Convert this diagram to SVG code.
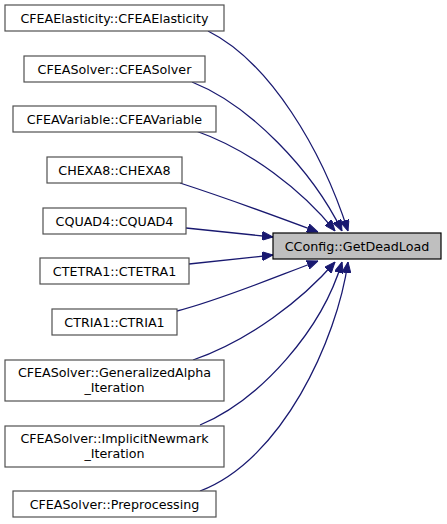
<svg xmlns="http://www.w3.org/2000/svg" width="447" height="524" viewBox="0 0 447 524">
<defs>
<style>
.node rect{fill:#ffffff;stroke:#505050;stroke-width:1.2}
.main rect{fill:#bfbfbf;stroke:#000000;stroke-width:1.2}
text{font-family:"DejaVu Sans",sans-serif;font-size:12.7px;fill:#000000;text-anchor:middle}
.edge{fill:none;stroke:#191970;stroke-width:1.3}
</style>
<marker id="ah" viewBox="0 0 11 9" refX="11" refY="4.5" markerWidth="11" markerHeight="9" markerUnits="userSpaceOnUse" orient="auto">
<path d="M0,0 L11,4.5 L0,9 Z" fill="#191970" stroke="#191970"/>
</marker>
</defs>
<rect width="447" height="524" fill="#ffffff"/>
<g id="connectors">
<path class="edge" marker-end="url(#ah)" d="M208,31 C270,62 322,150 348,231"/>
<path class="edge" marker-end="url(#ah)" d="M192,82 C250,105 312,170 342,231"/>
<path class="edge" marker-end="url(#ah)" d="M196,131 C250,150 302,190 335,231"/>
<path class="edge" marker-end="url(#ah)" d="M180,183 C220,196 270,214 318,232"/>
<path class="edge" marker-end="url(#ah)" d="M186,228 L273,237"/>
<path class="edge" marker-end="url(#ah)" d="M189,264 L273,255"/>
<path class="edge" marker-end="url(#ah)" d="M177,311 C220,300 270,279 318,261"/>
<path class="edge" marker-end="url(#ah)" d="M193,360 C250,340 302,300 335,262"/>
<path class="edge" marker-end="url(#ah)" d="M200,425 C260,400 322,330 342,262"/>
<path class="edge" marker-end="url(#ah)" d="M200,491 C282,460 337,340 348,262"/>
</g>
<g id="n_main" class="main"><rect x="273" y="233" width="168" height="26"/><text x="357" y="250.5">CConfig::GetDeadLoad</text></g>
<g id="n1" class="node"><rect x="5" y="5" width="219" height="26"/><text x="114.5" y="22.5">CFEAElasticity::CFEAElasticity</text></g>
<g id="n2" class="node"><rect x="24" y="56" width="181" height="26"/><text x="114.5" y="73.5">CFEASolver::CFEASolver</text></g>
<g id="n3" class="node"><rect x="13" y="106" width="203" height="26"/><text x="114.5" y="123.5">CFEAVariable::CFEAVariable</text></g>
<g id="n4" class="node"><rect x="47" y="157" width="135" height="26"/><text x="114.5" y="174.5">CHEXA8::CHEXA8</text></g>
<g id="n5" class="node"><rect x="43" y="208" width="143" height="26"/><text x="114.5" y="225.5">CQUAD4::CQUAD4</text></g>
<g id="n6" class="node"><rect x="40" y="258" width="149" height="26"/><text x="114.5" y="275.5">CTETRA1::CTETRA1</text></g>
<g id="n7" class="node"><rect x="52" y="309" width="125" height="26"/><text x="114.5" y="326.5">CTRIA1::CTRIA1</text></g>
<g id="n8" class="node"><rect x="5" y="360" width="219" height="41"/><text x="114.5" y="377">CFEASolver::GeneralizedAlpha</text><text x="114.5" y="392">_Iteration</text></g>
<g id="n9" class="node"><rect x="5" y="426" width="219" height="41"/><text x="114.5" y="443">CFEASolver::ImplicitNewmark</text><text x="114.5" y="458">_Iteration</text></g>
<g id="n10" class="node"><rect x="13" y="491" width="203" height="26"/><text x="114.5" y="508.5">CFEASolver::Preprocessing</text></g>
</svg>
